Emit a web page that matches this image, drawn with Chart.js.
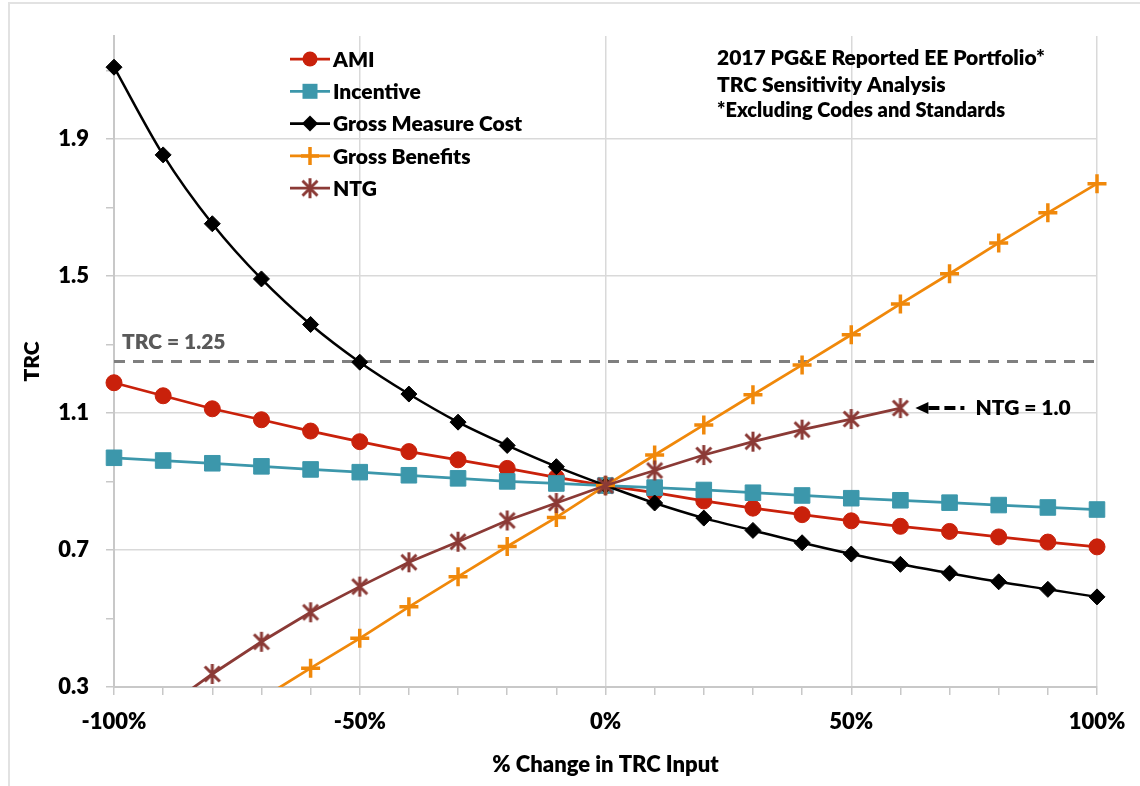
<!DOCTYPE html>
<html>
<head>
<meta charset="utf-8">
<title>TRC Sensitivity Analysis</title>
<script src="https://cdn.jsdelivr.net/npm/chart.js@4.4.1/dist/chart.umd.min.js"></script>
<style>
  html, body { margin: 0; padding: 0; background: #fff; }
  #wrap { width: 1140px; height: 786px; }
</style>
</head>
<body>
<div id="wrap"><canvas id="trcChart" width="1140" height="786"></canvas></div>
<script>
// --- données ---
const pctChange = [-100, -90, -80, -70, -60, -50, -40, -30, -20, -10, 0, 10, 20, 30, 40, 50, 60, 70, 80, 90, 100];
const amiTrc = [1.188, 1.150, 1.112, 1.080, 1.047, 1.016, 0.987, 0.963, 0.938, 0.912, 0.888, 0.867, 0.843, 0.822, 0.803, 0.785, 0.769, 0.754, 0.738, 0.723, 0.709];
const incentiveTrc = [0.969, 0.961, 0.953, 0.944, 0.935, 0.927, 0.918, 0.909, 0.900, 0.894, 0.888, 0.882, 0.875, 0.867, 0.859, 0.851, 0.845, 0.838, 0.831, 0.824, 0.818];
const grossCostTrc = [2.109, 1.853, 1.652, 1.491, 1.358, 1.248, 1.155, 1.073, 1.005, 0.943, 0.888, 0.837, 0.793, 0.757, 0.721, 0.688, 0.658, 0.632, 0.607, 0.585, 0.563];
const grossBenefitsTrc = [0.000, 0.089, 0.177, 0.266, 0.355, 0.442, 0.534, 0.622, 0.710, 0.795, 0.888, 0.977, 1.065, 1.153, 1.240, 1.328, 1.418, 1.506, 1.596, 1.684, 1.769];
const ntgTrc = [0.120, 0.235, 0.338, 0.432, 0.518, 0.593, 0.664, 0.724, 0.786, 0.837, 0.888, 0.932, 0.977, 1.016, 1.051, 1.082, 1.114, null, null, null, null];
const trcTarget = 1.25;

const xTicks = pctChange;
const xLabelTicks = [-100, -50, 0, 50, 100];
const yTicks = [0.3, 0.5, 0.7, 0.9, 1.1, 1.3, 1.5, 1.7, 1.9, 2.1];
const yLabelTicks = [0.3, 0.7, 1.1, 1.5, 1.9];

const seriesNames = ['AMI', 'Incentive', 'Gross Measure Cost', 'Gross Benefits', 'NTG'];
const titleLines = ['2017 PG&E Reported EE Portfolio*', 'TRC Sensitivity Analysis', '*Excluding Codes and Standards'];

const FONT = 'Lato, "Open Sans", sans-serif';
const WEIGHT = '800';
const GRID = '#d9d9d9';
const AXIS = '#c8c8c8';

const colors = {
    ami: '#C9210B',
    incentive: '#3C97AB',
    cost: '#000000',
    benefits: '#F0880A',
    ntg: '#8B3A36'
};

// étoile style Excel (barre verticale + X)
function makeStar(color) {
    const size = 22;
    const c = document.createElement('canvas');
    c.width = size; c.height = size;
    const g = c.getContext('2d');
    g.strokeStyle = color;
    g.lineWidth = 3;
    const m = size / 2, r = 10, d = 7.5;
    g.beginPath();
    g.moveTo(m, m - r); g.lineTo(m, m + r);
    g.moveTo(m - d, m - d); g.lineTo(m + d, m + d);
    g.moveTo(m + d, m - d); g.lineTo(m - d, m + d);
    g.stroke();
    return c;
}
const ntgStar = makeStar(colors.ntg);

function toPoints(values) {
    return pctChange.map((p, i) => ({ x: p, y: values[i] })).filter(pt => pt.y !== null);
}

const clipArea = { left: 14, top: 14, right: 14, bottom: 0 };

const datasets = [
    {
        label: seriesNames[0], data: toPoints(amiTrc), order: 5,
        borderColor: colors.ami, backgroundColor: colors.ami, borderWidth: 2.75,
        pointStyle: 'circle', pointRadius: 8, pointBorderWidth: 1, clip: clipArea
    },
    {
        label: seriesNames[1], data: toPoints(incentiveTrc), order: 4,
        borderColor: colors.incentive, backgroundColor: colors.incentive, borderWidth: 2.75,
        pointStyle: 'rect', pointRadius: 11, pointBorderWidth: 1, clip: clipArea
    },
    {
        label: seriesNames[2], data: toPoints(grossCostTrc), order: 3,
        borderColor: colors.cost, backgroundColor: colors.cost, borderWidth: 2.5,
        pointStyle: 'rectRot', pointRadius: 8, pointBorderWidth: 1, clip: clipArea,
        cubicInterpolationMode: 'monotone'
    },
    {
        label: seriesNames[3], data: toPoints(grossBenefitsTrc), order: 2,
        borderColor: colors.benefits, backgroundColor: colors.benefits, borderWidth: 2.75,
        pointStyle: 'cross', pointRadius: 9.5, pointBorderWidth: 3.5, clip: clipArea
    },
    {
        label: seriesNames[4], data: toPoints(ntgTrc), order: 1,
        borderColor: colors.ntg, backgroundColor: colors.ntg, borderWidth: 2.75,
        pointStyle: ntgStar, pointRadius: 10, clip: clipArea
    },
    {
        label: 'TRC = 1.25', data: [{ x: -100, y: trcTarget }, { x: 100, y: trcTarget }], order: 6,
        borderColor: '#7f7f7f', borderWidth: 3, borderDash: [11, 8], pointRadius: 0
    }
];

// --- marqueurs pour la légende ---
function drawMarker(ctx, idx, x, y) {
    const ds = datasets[idx];
    ctx.save();
    ctx.fillStyle = ds.borderColor;
    ctx.strokeStyle = ds.borderColor;
    if (ds.pointStyle === 'circle') {
        ctx.beginPath(); ctx.arc(x, y, 7.5, 0, Math.PI * 2); ctx.fill();
    } else if (ds.pointStyle === 'rect') {
        ctx.fillRect(x - 7.5, y - 7.5, 15, 15);
    } else if (ds.pointStyle === 'rectRot') {
        ctx.beginPath();
        ctx.moveTo(x - 8, y); ctx.lineTo(x, y - 8); ctx.lineTo(x + 8, y); ctx.lineTo(x, y + 8);
        ctx.closePath(); ctx.fill();
    } else if (ds.pointStyle === 'cross') {
        ctx.lineWidth = 3.5;
        ctx.beginPath();
        ctx.moveTo(x, y - 9); ctx.lineTo(x, y + 9);
        ctx.moveTo(x - 9, y); ctx.lineTo(x + 9, y);
        ctx.stroke();
    } else {
        ctx.drawImage(ds.pointStyle, x - 11, y - 11);
    }
    ctx.restore();
}

const extrasPlugin = {
    id: 'extras',
    beforeDraw(chart) {
        const ctx = chart.ctx;
        ctx.save();
        ctx.fillStyle = '#fff';
        ctx.fillRect(0, 0, chart.width, chart.height);
        ctx.strokeStyle = '#e2e2e2';
        ctx.lineWidth = 2;
        ctx.strokeRect(9, 3, chart.width + 20, chart.height + 20);
        ctx.restore();
    },
    afterDraw(chart) {
        const ctx = chart.ctx;
        const xs = chart.scales.x, ys = chart.scales.y;
        ctx.save();

        // légende
        ctx.font = WEIGHT + ' 21px ' + FONT;
        ctx.textBaseline = 'middle';
        ctx.textAlign = 'left';
        seriesNames.forEach((name, i) => {
            const y = 59 + i * 32.3;
            ctx.strokeStyle = datasets[i].borderColor;
            ctx.lineWidth = 2.75;
            ctx.beginPath(); ctx.moveTo(290, y); ctx.lineTo(330, y); ctx.stroke();
            drawMarker(ctx, i, 310, y);
            ctx.fillStyle = '#000';
            ctx.fillText(name, 333, y + 1);
        });

        // titre en haut à droite
        ctx.fillStyle = '#000';
        ctx.font = WEIGHT + ' 21px ' + FONT;
        ctx.fillText(titleLines[0], 717, 58);
        ctx.fillText(titleLines[1], 717, 85);
        ctx.font = WEIGHT + ' 20px ' + FONT;
        ctx.fillText(titleLines[2], 717, 111);

        // étiquette TRC = 1.25
        ctx.fillStyle = '#595959';
        ctx.font = WEIGHT + ' 21px ' + FONT;
        ctx.fillText('TRC = ' + trcTarget.toFixed(2), xs.getPixelForValue(-100) + 8, ys.getPixelForValue(trcTarget) - 19);

        // flèche NTG = 1.0
        const lastIdx = 16;
        const px = xs.getPixelForValue(pctChange[lastIdx]);
        const py = ys.getPixelForValue(ntgTrc[lastIdx]);
        ctx.fillStyle = '#000';
        ctx.beginPath();
        ctx.moveTo(px + 15, py); ctx.lineTo(px + 28, py - 6); ctx.lineTo(px + 28, py + 6);
        ctx.closePath(); ctx.fill();
        ctx.strokeStyle = '#000';
        ctx.lineWidth = 4;
        ctx.setLineDash([11, 5]);
        ctx.beginPath(); ctx.moveTo(px + 28, py); ctx.lineTo(px + 64, py); ctx.stroke();
        ctx.setLineDash([]);
        ctx.font = WEIGHT + ' 21px ' + FONT;
        ctx.fillText('NTG = 1.0', px + 75, py);

        ctx.restore();
    }
};

const isLabelTick = (list, v) => list.some(t => Math.abs(t - v) < 1e-6);

new Chart(document.getElementById('trcChart').getContext('2d'), {
    type: 'line',
    data: { datasets: datasets },
    options: {
        responsive: false,
        animation: false,
        devicePixelRatio: 1,
        layout: { padding: { top: 36, right: 43, left: 0, bottom: 0 } },
        plugins: { legend: { display: false }, tooltip: { enabled: false } },
        scales: {
            x: {
                type: 'linear', min: -100, max: 100,
                afterBuildTicks: axis => { axis.ticks = xTicks.map(v => ({ value: v })); },
                afterFit: axis => { axis.height = 99; },
                grid: {
                    color: c => isLabelTick(xLabelTicks, c.tick.value) ? GRID : 'rgba(0,0,0,0)',
                    lineWidth: 1.5, tickColor: AXIS, tickLength: 8
                },
                border: { color: AXIS, width: 2 },
                ticks: {
                    autoSkip: false, maxRotation: 0, padding: 14, color: '#000',
                    font: { family: FONT, size: 22, weight: WEIGHT },
                    callback: v => isLabelTick(xLabelTicks, v) ? v + '%' : ''
                },
                title: {
                    display: true, text: '% Change in TRC Input', color: '#000',
                    font: { family: FONT, size: 22, weight: WEIGHT },
                    padding: { top: 0, bottom: 8 }
                }
            },
            y: {
                type: 'linear', min: 0.3, max: 2.2,
                afterBuildTicks: axis => { axis.ticks = yTicks.map(v => ({ value: v })); },
                afterFit: axis => { axis.width = 114; },
                grid: {
                    color: c => isLabelTick(yLabelTicks, c.tick.value) ? GRID : 'rgba(0,0,0,0)',
                    lineWidth: 1.5, tickColor: AXIS, tickLength: 8
                },
                border: { color: AXIS, width: 2 },
                ticks: {
                    autoSkip: false, padding: 17, color: '#000',
                    font: { family: FONT, size: 22, weight: WEIGHT },
                    callback: v => isLabelTick(yLabelTicks, v) ? v.toFixed(1) : ''
                },
                title: {
                    display: true, text: 'TRC', color: '#000',
                    font: { family: FONT, size: 21, weight: WEIGHT },
                    padding: { top: 20, bottom: 0 }
                }
            }
        }
    },
    plugins: [extrasPlugin]
});
</script>
</body>
</html>
